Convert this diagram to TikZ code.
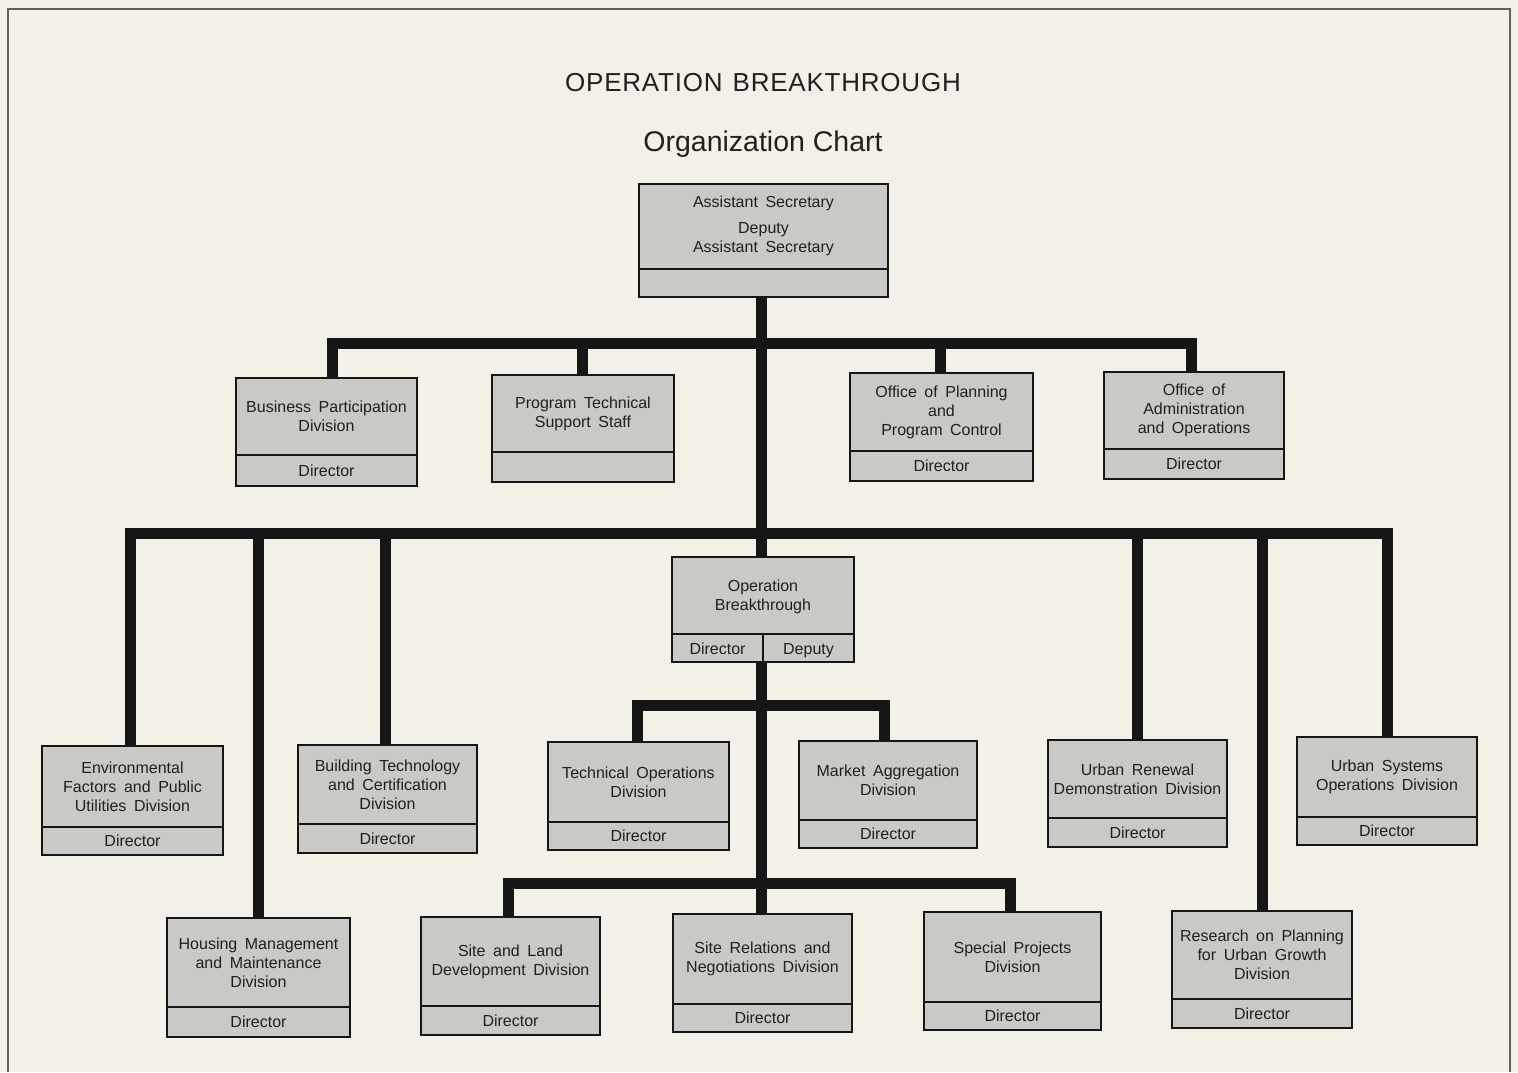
\documentclass[tikz,border=0pt]{standalone}
\usepackage{fontspec}
\setmainfont{Liberation Sans}
\newfontfamily\boxfont[WordSpace=1.7]{Liberation Sans}
\newfontfamily\titlefont[LetterSpace=3.0]{Liberation Sans}
\usetikzlibrary{calc}
\definecolor{bgc}{RGB}{243,241,231}
\definecolor{boxc}{RGB}{201,201,197}
\definecolor{ink}{RGB}{22,22,22}
\definecolor{txt}{RGB}{32,32,32}
\definecolor{framec}{RGB}{95,95,95}
\tikzset{
  obox/.style={draw=ink, fill=boxc, line width=2.8pt, inner sep=0pt, rectangle},
  divl/.style={draw=ink, line width=2.8pt},
  btext/.style={text=txt, align=center, inner sep=0pt,
    font=\boxfont\fontsize{16}{19}\selectfont},
  conn/.style={draw=ink, line width=11pt},
  ttext/.style={text=txt, inner sep=0pt, anchor=base},
}
% name, x1, y1, x2, y2, divider y, upper text, lower text
\newcommand\orgbox[8]{%
  \pgfmathsetmacro\obw{#4-#2}%
  \pgfmathsetmacro\obh{#5-#3}%
  \pgfmathsetmacro\obx{(#2+#4)/2}%
  \pgfmathsetmacro\oby{(#3+#5)/2}%
  \pgfmathsetmacro\obt{(#3+#6)/2}%
  \pgfmathsetmacro\obd{(#6+#5)/2}%
  \node[obox, minimum width=\obw pt, minimum height=\obh pt] (#1) at (\obx,\oby) {};
  \draw[divl] (#2,#6) -- (#4,#6);
  \node[btext] (#1-t) at (\obx,\obt) {#7};
  \node[btext] (#1-d) at (\obx,\obd) {#8};
}
\begin{document}
\begin{tikzpicture}[x=1pt,y=-1pt]
\useasboundingbox (0,0) rectangle (1518,1072);
\fill[bgc] (0,0) rectangle (1518,1072);
\draw[framec, line width=2pt] (8,1072) -- (8,9) -- (1510,9) -- (1510,1072);

\node[ttext, font=\titlefont\fontsize{26}{30}\selectfont] (title) at (763,91) {OPERATION\hspace{10pt}BREAKTHROUGH};
\node[ttext, font=\fontsize{28.5}{33}\selectfont] (subtitle) at (763,151) {Organization Chart};

% boxes
\orgbox{as}{639}{184}{888}{297}{269}{}{}
\node[btext] (as-a) at (763.5,203) {Assistant Secretary};
\node[btext] (as-b) at (763.5,239.5) {Deputy\\Assistant Secretary};
\orgbox{bp}{236}{378}{417}{486}{455}{Business Participation\\Division}{Director}
\orgbox{pt}{492}{375}{674}{482}{452}{Program Technical\\Support Staff}{}
\orgbox{pc}{850}{373}{1033}{481}{451}{Office of Planning\\and\\Program Control}{Director}
\orgbox{ao}{1104}{372}{1284}{479}{449}{Office of\\Administration\\and Operations}{Director}

% Operation Breakthrough
\node[obox, minimum width=182pt, minimum height=105pt] (ob) at (763,609.5) {};
\draw[divl] (672,634) -- (854,634);
\draw[divl] (763,634) -- (763,662);
\node[btext] (ob-t) at (763,597) {Operation\\Breakthrough};
\node[btext, anchor=base] (ob-d) at (717.5,654) {Director};
\node[btext, anchor=base] (ob-p) at (808.5,654) {Deputy};

\orgbox{ef}{42}{746}{223}{855}{827}{Environmental\\Factors and Public\\Utilities Division}{Director}
\orgbox{bt}{298}{745}{477}{853}{824}{Building Technology\\and Certification\\Division}{Director}
\orgbox{to}{548}{742}{729}{850}{822}{Technical Operations\\Division}{Director}
\orgbox{ma}{799}{741}{977}{848}{820}{Market Aggregation\\Division}{Director}
\orgbox{ur}{1048}{740}{1227}{847}{818}{Urban Renewal\\Demonstration Division}{Director}
\orgbox{us}{1297}{737}{1477}{845}{817}{Urban Systems\\Operations Division}{Director}

\orgbox{hm}{167}{918}{350}{1037}{1007}{Housing Management\\and Maintenance\\Division}{Director}
\orgbox{sl}{421}{917}{600}{1035}{1006}{Site and Land\\Development Division}{Director}
\orgbox{sr}{673}{914}{852}{1032}{1004}{Site Relations and\\Negotiations Division}{Director}
\orgbox{sp}{924}{912}{1101}{1030}{1002}{Special Projects\\Division}{Director}
\orgbox{rp}{1172}{911}{1352}{1028}{999}{Research on Planning\\for Urban Growth\\Division}{Director}

% bar junctions
\coordinate (c1) at (761,343);
\coordinate (c2) at (761,533);
\coordinate (c3) at (761,705);
\coordinate (c4) at (761,883);

% main spine
\draw[conn] ([xshift=-2.5pt]as.south) -- ([xshift=-2.5pt]as.south |- ob.north);
\draw[conn] ([xshift=-2pt]ob.south) -- ([xshift=-2pt]ob.south |- sr.north);

% bar 1
\draw[conn] ([xshift=6pt]bp.north) |- (c1) -| ([xshift=-3pt]ao.north);
\draw[conn] ([xshift=-1pt]pt.north) -- ([xshift=-1pt]pt.north |- c1);
\draw[conn] ([xshift=-1pt]pc.north) -- ([xshift=-1pt]pc.north |- c1);

% bar 2
\draw[conn] ([xshift=-2pt]ef.north) |- (c2) -| (us.north);
\draw[conn] (hm.north) -- (hm.north |- c2);
\draw[conn] ([xshift=-2pt]bt.north) -- ([xshift=-2pt]bt.north |- c2);
\draw[conn] (ur.north) -- (ur.north |- c2);
\draw[conn] (rp.north) -- (rp.north |- c2);

% bar 3
\draw[conn] ([xshift=-1pt]to.north) |- (c3) -| ([xshift=-4pt]ma.north);

% bar 4
\draw[conn] ([xshift=-2pt]sl.north) |- (c4) -| ([xshift=-2pt]sp.north);
\end{tikzpicture}
\end{document}
